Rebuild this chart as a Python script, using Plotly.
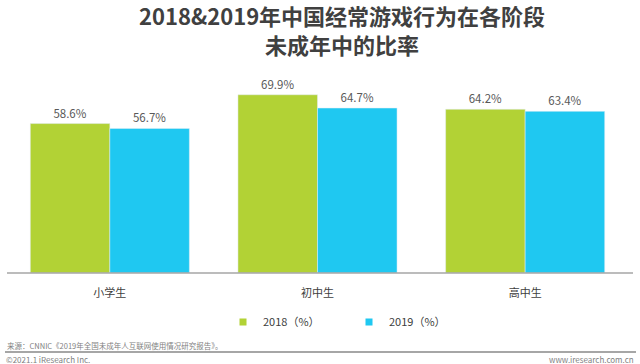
import plotly.graph_objects as go

categories = ["小学生", "初中生", "高中生"]
values_2018 = [58.6, 69.9, 64.2]
values_2019 = [56.7, 64.7, 63.4]
series_names = ["2018（%）", "2019（%）"]
title_lines = ["2018&2019年中国经常游戏行为在各阶段", "未成年中的比率"]
source_text = "来源：CNNIC《2019年全国未成年人互联网使用情况研究报告》。"
copyright_text = "©2021.1 iResearch Inc."
site_text = "www.iresearch.com.cn"

GREEN = "#B2D235"
BLUE = "#1FC8F1"
FONT = "Noto Sans CJK SC"

W, H = 640, 364
ML, MR, MT, MB = 6, 11, 69, 91
PW, PH = W - ML - MR, H - MT - MB

def px(x):
    return (x - ML) / PW

def py(y):
    return (H - MB - y) / PH

fig = go.Figure()
fig.add_trace(go.Bar(
    x=categories, y=values_2018, name=series_names[0], marker_color=GREEN,
    text=[f"{v:.1f}%" for v in values_2018], textposition="outside",
    textfont=dict(size=11.5, color="#595959"), cliponaxis=False, showlegend=False))
fig.add_trace(go.Bar(
    x=categories, y=values_2019, name=series_names[1], marker_color=BLUE,
    text=[f"{v:.1f}%" for v in values_2019], textposition="outside",
    textfont=dict(size=11.5, color="#595959"), cliponaxis=False, showlegend=False))
# legend entries
for nm, col in zip(series_names, [GREEN, BLUE]):
    fig.add_trace(go.Scatter(x=[None], y=[None], mode="markers", name=nm,
                             marker=dict(symbol="square", size=7, color=col)))

fig.update_layout(
    width=W, height=H,
    margin=dict(l=ML, r=MR, t=MT, b=MB),
    paper_bgcolor="white", plot_bgcolor="white",
    font=dict(family=FONT, color="#404040", size=12),
    barmode="group", bargap=0.234, bargroupgap=0,
    xaxis=dict(showline=False, showgrid=False, ticks="outside", ticklen=10,
               tickcolor="rgba(0,0,0,0)", tickfont=dict(size=11, color="#404040")),
    yaxis=dict(range=[0, 80], visible=False),
    legend=dict(orientation="h", x=px(349), xanchor="center", y=py(322), yanchor="middle",
                font=dict(size=11, color="#404040"), itemwidth=30, entrywidth=81),
    showlegend=True,
)

for line, yc in zip(title_lines, [14.5, 43.5]):
    fig.add_annotation(text=f"<b>{line}</b>", xref="paper", yref="paper", x=px(342), y=py(yc),
                       xanchor="center", yanchor="middle", showarrow=False, borderpad=0,
                       font=dict(size=22, color="#404040", family=FONT))

# axis baseline
fig.add_shape(type="line", xref="paper", yref="paper", x0=px(7), x1=px(633), y0=0, y1=0,
              line=dict(color="#A6A6A6", width=1.5))
# footer separator
fig.add_shape(type="line", xref="paper", yref="paper", x0=px(5), x1=px(636), y0=py(352), y1=py(352),
              line=dict(color="#A6A6A6", width=2))

fig.add_annotation(text=source_text, xref="paper", yref="paper", x=px(5), y=py(345),
                   xanchor="left", yanchor="middle", showarrow=False,
                   font=dict(size=7.5, color="#7f7f7f"))
fig.add_annotation(text=copyright_text, xref="paper", yref="paper", x=px(4), y=py(359),
                   xanchor="left", yanchor="middle", showarrow=False,
                   font=dict(size=8, color="#7f7f7f"))
fig.add_annotation(text=site_text, xref="paper", yref="paper", x=px(636), y=py(359),
                   xanchor="right", yanchor="middle", showarrow=False,
                   font=dict(size=8, color="#7f7f7f"))

fig.write_html("out.html", config={"displayModeBar": False},
               post_script="document.body.style.margin='0';document.body.style.overflow='hidden';")
